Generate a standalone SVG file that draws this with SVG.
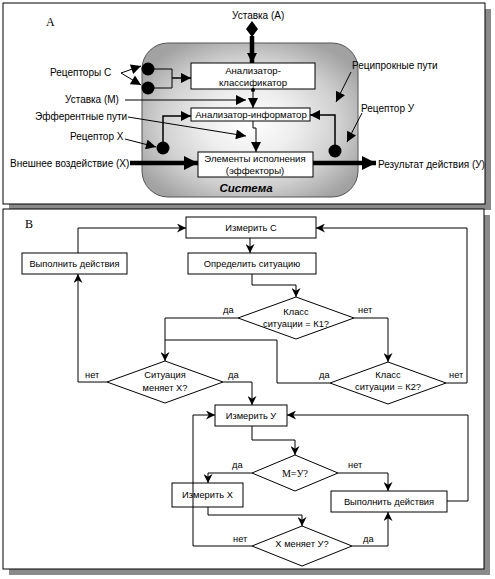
<svg xmlns="http://www.w3.org/2000/svg" width="495" height="579" viewBox="0 0 495 579">
<style>
text{font-family:"Liberation Sans",Arial,sans-serif;font-size:10px;fill:#000}
.b text{font-size:9.3px}
.c{text-anchor:middle}
.bx{font-size:9.6px}
.ser{font-family:"Liberation Serif","Times New Roman",serif;font-size:12px}
.box{fill:#fff;stroke:#000;stroke-width:1}
.ln{fill:none;stroke:#000;stroke-width:1}
.th{fill:none;stroke:#000;stroke-width:4.5}
.dot{fill:#000}
</style>
<defs>
<radialGradient id="g" cx="50%" cy="52%" r="60%">
<stop offset="0" stop-color="#ffffff"/>
<stop offset="0.35" stop-color="#eeeeee"/>
<stop offset="0.7" stop-color="#cfcfcf"/>
<stop offset="1" stop-color="#a2a2a2"/>
</radialGradient>
<marker id="ta" viewBox="0 0 10 10" refX="10" refY="5" markerWidth="11" markerHeight="10" markerUnits="userSpaceOnUse" orient="auto"><path d="M0,0 L10,5 L0,10 z"/></marker>
<marker id="tt" viewBox="0 0 10 10" refX="10" refY="5" markerWidth="16" markerHeight="14" markerUnits="userSpaceOnUse" orient="auto"><path d="M0,0 L10,5 L0,10 z"/></marker>
<marker id="ab" viewBox="0 0 10 10" refX="10" refY="5" markerWidth="9" markerHeight="9" markerUnits="userSpaceOnUse" orient="auto"><path d="M0,0 L10,5 L0,10 L3,5 z"/></marker>
</defs>

<!-- panel frames -->
<rect x="9" y="9" width="482" height="201" fill="#8a8a8a"/>
<rect x="3" y="3" width="482" height="201" fill="#fff" stroke="#000"/>
<rect x="9" y="215" width="481" height="360" fill="#8a8a8a"/>
<rect x="3" y="209" width="481" height="360" fill="#fff" stroke="#000"/>

<text class="ser" x="46" y="26">A</text>
<text class="ser" x="25" y="228">B</text>

<!-- Panel A -->
<g id="system">
<rect x="142" y="43" width="216" height="154" rx="26" ry="26" fill="url(#g)" stroke="#555"/>
<text x="246" y="192" class="c" style="font-weight:bold;font-style:italic;font-size:11.5px">Система</text>
</g>
<g id="classifier">
<rect class="box" x="191" y="63" width="124" height="26"/>
<text class="c bx" x="253" y="74">Анализатор-</text>
<text class="c bx" x="253" y="86">классификатор</text>
</g>
<g id="informator">
<rect class="box" x="191" y="108" width="119" height="13"/>
<text class="c bx" x="251" y="118">Анализатор-информатор</text>
</g>
<g id="effectors">
<rect class="box" x="198" y="152" width="115" height="25"/>
<text class="c bx" x="255" y="162">Элементы исполнения</text>
<text class="c bx" x="255" y="174">(эффекторы)</text>
</g>
<g id="receptorC1"><circle class="dot" cx="148" cy="69" r="6.5"/></g>
<g id="receptorC2"><circle class="dot" cx="148" cy="88" r="6.5"/></g>
<g id="receptorX"><circle class="dot" cx="163" cy="148" r="6.5"/></g>
<g id="receptorY"><circle class="dot" cx="335" cy="151" r="6.5"/></g>
<g id="labelsA">
<text x="232" y="19">Уставка (А)</text>
<text x="50" y="76">Рецепторы  С</text>
<text x="65" y="103">Уставка (М)</text>
<text x="35" y="120">Эфферентные пути</text>
<text x="70" y="140">Рецептор Х</text>
<text x="10" y="167">Внешнее воздействие (Х)</text>
<text x="352" y="69">Реципрокные пути</text>
<text x="361" y="112">Рецептор У</text>
<text x="378" y="168">Результат действия (У)</text>
</g>
<g id="connectorsA">
<path d="M252,21 L258,29 L252,37 L246,29 z" fill="#000"/>
<path class="th" d="M252,36 L252,63" marker-end="url(#ta)"/>
<path class="ln" d="M121,73 L141,66" marker-end="url(#ta)"/>
<path class="ln" d="M121,73 L141,85" marker-end="url(#ta)"/>
<path class="ln" d="M148,69 L172,69 L172,88 L148,88"/>
<path class="ln" style="stroke-width:1.5" d="M172,78 L191,78" marker-end="url(#ta)"/>
<path class="ln" d="M125,100 L246,100" marker-end="url(#ta)"/>
<circle class="dot" cx="253" cy="90" r="2"/>
<path class="ln" d="M253,90 L253,108" marker-end="url(#ta)"/>
<path class="ln" d="M128,117 L246,136" marker-end="url(#ta)"/>
<path class="ln" d="M253,121 L253,128 L256,128 L256,152" marker-end="url(#ta)"/>
<path class="ln" d="M125,139 L156,147" marker-end="url(#ta)"/>
<path class="ln" style="stroke-width:1.5" d="M163,148 L163,116 L191,116" marker-end="url(#ta)"/>
<path class="ln" style="stroke-width:1.5" d="M335,151 L335,115 L310,115" marker-end="url(#ta)"/>
<path class="th" d="M130,163 L198,163" marker-end="url(#tt)"/>
<path class="th" d="M313,163 L376,163" marker-end="url(#tt)"/>
<path class="ln" d="M351,72 L336,102" marker-end="url(#ta)"/>
<path class="ln" d="M362,113 L347,142" marker-end="url(#ta)"/>
</g>

<!-- Panel B -->
<g class="b">
<g id="measureC"><rect class="box" x="186" y="217" width="130" height="21"/><text class="c" x="251" y="231">Измерить С</text></g>
<g id="define"><rect class="box" x="188" y="253" width="128" height="21"/><text class="c" x="252" y="267">Определить ситуацию</text></g>
<g id="actL"><rect class="box" x="22" y="253" width="105" height="21"/><text class="c" x="74.5" y="267">Выполнить действия</text></g>
<g id="k1"><path class="box" d="M296,297 L354,318 L296,339 L238,318 z"/><text class="c" x="296" y="315">Класс</text><text class="c" x="296" y="327">ситуации = К1?</text></g>
<g id="k2"><path class="box" d="M388,362 L446,383 L388,404 L330,383 z"/><text class="c" x="388" y="378">Класс</text><text class="c" x="388" y="390">ситуации = К2?</text></g>
<g id="sitX"><path class="box" d="M165,361 L223,382 L165,403 L107,382 z"/><text class="c" x="165" y="378">Ситуация</text><text class="c" x="165" y="391">меняет Х?</text></g>
<g id="measureY"><rect class="box" x="215" y="405" width="72" height="21"/><text class="c" x="251" y="419">Измерить У</text></g>
<g id="mY"><path class="box" d="M295,455 L338,473 L295,491 L252,473 z"/><text class="c" x="295" y="477" style="font-family:'Liberation Serif',serif;font-size:10px">М=У?</text></g>
<g id="measureX"><rect class="box" x="172" y="483" width="71" height="24"/><text class="c" x="207.5" y="498">Измерить Х</text></g>
<g id="actR"><rect class="box" x="331" y="491" width="116" height="21"/><text class="c" x="389" y="505">Выполнить действия</text></g>
<g id="xY"><path class="box" d="M302,526 L352,546 L302,566 L252,546 z"/><text class="c" x="302" y="547">Х меняет У?</text></g>
<g id="labelsB">
<text x="223" y="313">да</text>
<text x="358" y="313">нет</text>
<text x="319" y="378">да</text>
<text x="449" y="378">нет</text>
<text x="85" y="378">нет</text>
<text x="228" y="378">да</text>
<text x="232" y="468">да</text>
<text x="348" y="468">нет</text>
<text x="233" y="542">нет</text>
<text x="363" y="542">да</text>
</g>
<g id="connectorsB">
<path class="ln" d="M78,253 L78,228 L186,228" marker-end="url(#ab)"/>
<path class="ln" d="M250,238 L250,253" marker-end="url(#ab)"/>
<path class="ln" d="M252,274 L252,285 L296,285 L296,297" marker-end="url(#ab)"/>
<path class="ln" d="M238,318 L165,318 L165,361" marker-end="url(#ab)"/>
<path class="ln" d="M354,318 L388,318 L388,362" marker-end="url(#ab)"/>
<path class="ln" d="M330,383 L277,383 L277,340 L165,340"/>
<path class="ln" d="M446,383 L467,383 L467,228 L316,228" marker-end="url(#ab)"/>
<path class="ln" d="M107,382 L78,382 L78,274" marker-end="url(#ab)"/>
<path class="ln" d="M223,382 L252,382 L252,405" marker-end="url(#ab)"/>
<path class="ln" d="M252,426 L252,440 L295,440 L295,455" marker-end="url(#ab)"/>
<path class="ln" d="M252,473 L208,473 L208,483" marker-end="url(#ab)"/>
<path class="ln" d="M338,473 L388,473 L388,491" marker-end="url(#ab)"/>
<path class="ln" d="M208,507 L208,515 L302,515 L302,526" marker-end="url(#ab)"/>
<path class="ln" d="M252,546 L193,546 L193,415 L215,415" marker-end="url(#ab)"/>
<path class="ln" d="M352,546 L388,546 L388,512" marker-end="url(#ab)"/>
<path class="ln" d="M447,501 L468,501 L468,415 L287,415" marker-end="url(#ab)"/>
</g>
</g>
</svg>
